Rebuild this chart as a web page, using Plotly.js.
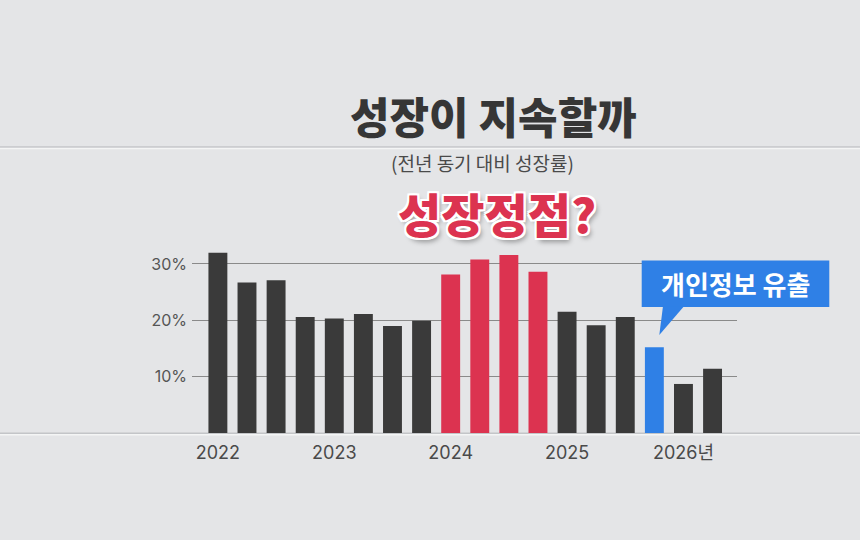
<!DOCTYPE html>
<html>
<head>
<meta charset="utf-8">
<script src="https://cdn.plot.ly/plotly-3.0.1.min.js"></script>
<style>
  html, body { margin:0; padding:0; background:#e4e5e7; }
  #chart { width:860px; height:540px; }
</style>
</head>
<body>
<div id="chart"></div>
<script>
// ---- data ----
var quarters = ['2022Q1','2022Q2','2022Q3','2022Q4',
                '2023Q1','2023Q2','2023Q3','2023Q4',
                '2024Q1','2024Q2','2024Q3','2024Q4',
                '2025Q1','2025Q2','2025Q3','2025Q4',
                '2026Q1','2026Q2'];
var growth = [32.0, 26.7, 27.1, 20.6,
              20.3, 21.1, 19.0, 19.9,
              28.1, 30.8, 31.6, 28.6,
              21.5, 19.1, 20.6, 15.2,
              8.7, 11.4];
var yearTickQuarters = ['2022Q1','2023Q1','2024Q1','2025Q1','2026Q1'];
var yearTickLabels = ['2022','2023','2024','2025','2026년'];
var yTicks = [10, 20, 30];
var yTickLabels = ['10%', '20%', '30%'];
var peakYear = '2024';
var leakQuarter = '2025Q4';
var titleText = '성장이 지속할까';
var subtitleText = '(전년 동기 대비 성장률)';
var peakText = '성장정점?';
var calloutText = '개인정보 유출';

// ---- styling ----
var DARK = '#3a3a3a', RED = '#dc3350', BLUE = '#2f80e6';
var colors = quarters.map(function(q){
  if (q === leakQuarter) return BLUE;
  if (q.indexOf(peakYear) === 0) return RED;
  return DARK;
});

// plot-area geometry (pixels)
var L = 192, R = 737, T = 246.5, B = 433.3, W = 860, H = 540;
function px(x){ return (x - L) / (R - L); }
function py(y){ return (B - y) / (B - T); }

var trace = {
  type:'bar', x: quarters, y: growth,
  marker:{ color: colors, line:{width:0} },
  hoverinfo:'none'
};

var kr = '"Noto Sans CJK KR", "Noto Sans", sans-serif';
var layout = {
  width: W, height: H,
  paper_bgcolor:'#e4e5e7', plot_bgcolor:'rgba(0,0,0,0)',
  margin:{ l:L, r:W-R, t:T, b:H-B, pad:0 },
  bargap:0.35,
  showlegend:false,
  xaxis:{
    type:'category', range:[-0.89, 17.84],
    tickmode:'array', tickvals: yearTickQuarters, ticktext: yearTickLabels,
    showgrid:false, zeroline:false, showline:false, ticks:'',
    ticklabelstandoff: 7,
    tickfont:{ family:'Inter, "Noto Sans CJK KR", sans-serif', size:18, color:'#4a4a4a' }
  },
  yaxis:{
    range:[0, 33], tickmode:'array', tickvals: yTicks, ticktext: yTickLabels,
    showgrid:true, gridcolor:'#8a8a8a', gridwidth:1,
    zeroline:false, showline:false, ticks:'',
    ticklabelstandoff: 4,
    tickfont:{ family:'Inter, sans-serif', size:16, color:'#555' }
  },
  shapes:[
    // paper creases
    { type:'line', xref:'paper', yref:'paper', x0:px(0), x1:px(W), y0:py(146), y1:py(146),
      line:{ color:'rgba(120,122,128,0.3)', width:1.5 }, layer:'below' },
    { type:'line', xref:'paper', yref:'paper', x0:px(0), x1:px(W), y0:py(147.5), y1:py(147.5),
      line:{ color:'rgba(255,255,255,0.6)', width:1.5 }, layer:'below' },
    { type:'line', xref:'paper', yref:'paper', x0:px(0), x1:px(W), y0:py(433.5), y1:py(433.5),
      line:{ color:'rgba(120,122,128,0.3)', width:1.5 }, layer:'below' },
    { type:'line', xref:'paper', yref:'paper', x0:px(0), x1:px(W), y0:py(435), y1:py(435),
      line:{ color:'rgba(255,255,255,0.6)', width:1.5 }, layer:'below' },
    // callout box
    { type:'rect', xref:'paper', yref:'paper', x0:px(641.7), x1:px(829.3), y0:py(306.7), y1:py(260),
      fillcolor:BLUE, line:{width:0}, layer:'above' },
    { type:'path', xref:'paper', yref:'paper',
      path:'M '+px(663)+' '+py(306)+' L '+px(659.3)+' '+py(335)+' L '+px(684)+' '+py(306)+' Z',
      fillcolor:BLUE, line:{width:0}, layer:'above' }
  ],
  annotations:[
    { text:titleText, xref:'paper', yref:'paper', x:px(493), y:py(114), showarrow:false,
      xanchor:'center', yanchor:'middle',
      font:{ family:kr, size:43, color:'#363636', weight:900 } },
    { text:subtitleText, xref:'paper', yref:'paper', x:px(482), y:py(162), showarrow:false,
      xanchor:'center', yanchor:'middle',
      font:{ family:kr, size:19, color:'#4a4a4a', weight:400 } },
    { text:peakText, xref:'paper', yref:'paper', x:px(497), y:py(212), showarrow:false,
      xanchor:'center', yanchor:'middle',
      font:{ family:kr, size:47, color:RED, weight:900,
        shadow:'2px 0 0 #fff, -2px 0 0 #fff, 0 2px 0 #fff, 0 -2px 0 #fff, 2px 2px 0 #fff, -2px -2px 0 #fff, 2px -2px 0 #fff, -2px 2px 0 #fff, 3px 4px 5px rgba(0,0,0,0.35)' } },
    { text:calloutText, xref:'paper', yref:'paper', x:px(735.5), y:py(283.5), showarrow:false,
      xanchor:'center', yanchor:'middle',
      font:{ family:kr, size:26, color:'#ffffff', weight:700 } }
  ]
};

Plotly.newPlot('chart', [trace], layout, { staticPlot:true, displayModeBar:false });
</script>
</body>
</html>
